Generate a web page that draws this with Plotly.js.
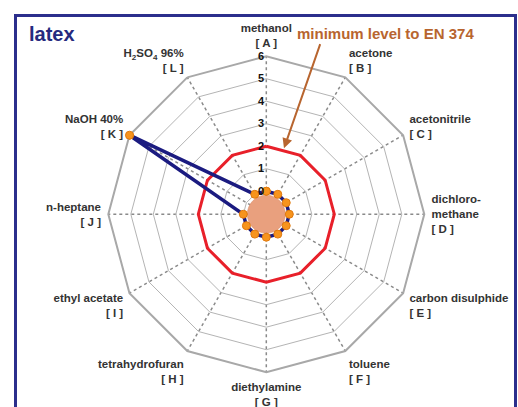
<!DOCTYPE html>
<html>
<head>
<meta charset="utf-8">
<script src="https://cdn.plot.ly/plotly-3.0.1.min.js"></script>
<style>
  html, body { margin: 0; padding: 0; background: #ffffff; overflow: hidden; }
  #chart { position: absolute; left: 0; top: 0; width: 518px; height: 407px; }
  #frame { position: absolute; left: 14px; top: 14px; width: 497px; height: 420px;
           border: 3px solid #2b2e8c; pointer-events: none; }
</style>
</head>
<body>
<div id="chart"></div>
<div id="frame"></div>
<script>
// ---- data ----
const categories = [
  'methanol<br>[ A ]',
  'acetone<br>[ B ]',
  'acetonitrile<br>[ C ]',
  'dichloro-<br>methane<br>[ D ]',
  'carbon disulphide<br>[ E ]',
  'toluene<br>[ F ]',
  'diethylamine<br>[ G ]',
  'tetrahydrofuran<br>[ H ]',
  'ethyl acetate<br>[ I ]',
  'n-heptane<br>[ J ]',
  'NaOH 40%<br>[ K ]',
  'H<sub>2</sub>SO<sub>4</sub> 96%<br>[ L ]'
];
const latexValues   = [0, 0, 0, 0, 0, 0, 0, 0, 0, 0, 6, 0];
const minimumLevel  = [2, 2, 2, 2, 2, 2, 2, 2, 2, 2, 2, 2];
const radialTicks   = [0, 1, 2, 3, 4, 5, 6];
const radialMin = -1.022;   // inner offset so level 0 forms a small ring

const close = a => a.concat([a[0]]);
const markerStyle = { size: 8, color: '#f7941d', line: { color: '#e07a10', width: 1 } };

const traces = [
  { // centre disc
    type: 'scatterpolar', subplot: 'polar', mode: 'markers', cliponaxis: true,
    r: [radialMin], theta: [categories[0]],
    marker: { size: 38, color: '#e9a07e', line: { color: '#d88a66', width: 0.5 } },
    hoverinfo: 'skip', showlegend: false
  },
  { // minimum level (red)
    type: 'scatterpolar', subplot: 'polar', mode: 'lines', cliponaxis: true,
    r: close(minimumLevel), theta: close(categories),
    line: { color: '#e8202a', width: 3 },
    showlegend: false
  },
  { // latex results
    type: 'scatterpolar', subplot: 'polar', mode: 'lines+markers', cliponaxis: true,
    r: close(latexValues), theta: close(categories),
    line: { color: '#1b1b80', width: 3.5 },
    marker: markerStyle,
    showlegend: false
  },
  { // overlay subplot: unclipped markers for the points lying on the outer edge
    type: 'scatterpolar', subplot: 'polar2', mode: 'markers', cliponaxis: false,
    r: latexValues, theta: categories,
    marker: markerStyle,
    showlegend: false
  }
];

const polarDomain = { x: [0.2091, 0.8191], y: [0.0855, 0.8619] };

const layout = {
  width: 518, height: 407,
  margin: { l: 0, r: 0, t: 0, b: 0 },
  paper_bgcolor: '#ffffff',
  font: { family: 'Arial, "Liberation Sans", sans-serif', color: '#333333' },
  title: {
    text: 'latex', xref: 'paper', x: 0.056, xanchor: 'left',
    y: 1 - 34 / 407, yanchor: 'middle',
    font: { size: 20, weight: 'bold', color: '#262a7e' }
  },
  polar: {
    domain: polarDomain,
    bgcolor: '#ffffff',
    gridshape: 'linear',
    radialaxis: {
      range: [radialMin, 6],
      tickvals: radialTicks,
      angle: 90,
      tickangle: 90,
      side: 'counterclockwise',
      showline: false,
      ticks: '',
      gridcolor: '#b4b4b4', gridwidth: 1,
      tickfont: { size: 11, weight: 'bold', color: '#111111' }
    },
    angularaxis: {
      type: 'category',
      categoryarray: categories,
      direction: 'clockwise',
      rotation: 90,
      showline: true, linecolor: '#a8a8a8', linewidth: 2,
      gridcolor: '#8a8a8a', gridwidth: 1.5, griddash: 'dot',
      ticks: 'outside', ticklen: 4, tickcolor: 'rgba(0,0,0,0)',
      tickfont: { size: 11.5, weight: 'bold', color: '#333333' }
    }
  },
  polar2: {
    domain: polarDomain,
    bgcolor: 'rgba(0,0,0,0)',
    gridshape: 'linear',
    radialaxis: { range: [radialMin, 6], visible: false },
    angularaxis: {
      type: 'category', categoryarray: categories,
      direction: 'clockwise', rotation: 90, visible: false
    }
  },
  annotations: [
    {
      xref: 'paper', yref: 'paper', x: 385 / 518, y: 1 - 33 / 407,
      text: 'minimum level to EN 374', showarrow: false,
      xanchor: 'center', yanchor: 'middle',
      font: { size: 15, weight: 'bold', color: '#b8652f' }
    },
    {
      xref: 'paper', yref: 'paper', x: 284 / 518, y: 1 - 148.3 / 407,
      text: '', showarrow: true, ax: 36.7, ay: -105.6,
      arrowhead: 2, arrowsize: 1, arrowwidth: 2, arrowcolor: '#b8652f'
    }
  ]
};

Plotly.newPlot('chart', traces, layout, { displayModeBar: false, staticPlot: true });
</script>
</body>
</html>
